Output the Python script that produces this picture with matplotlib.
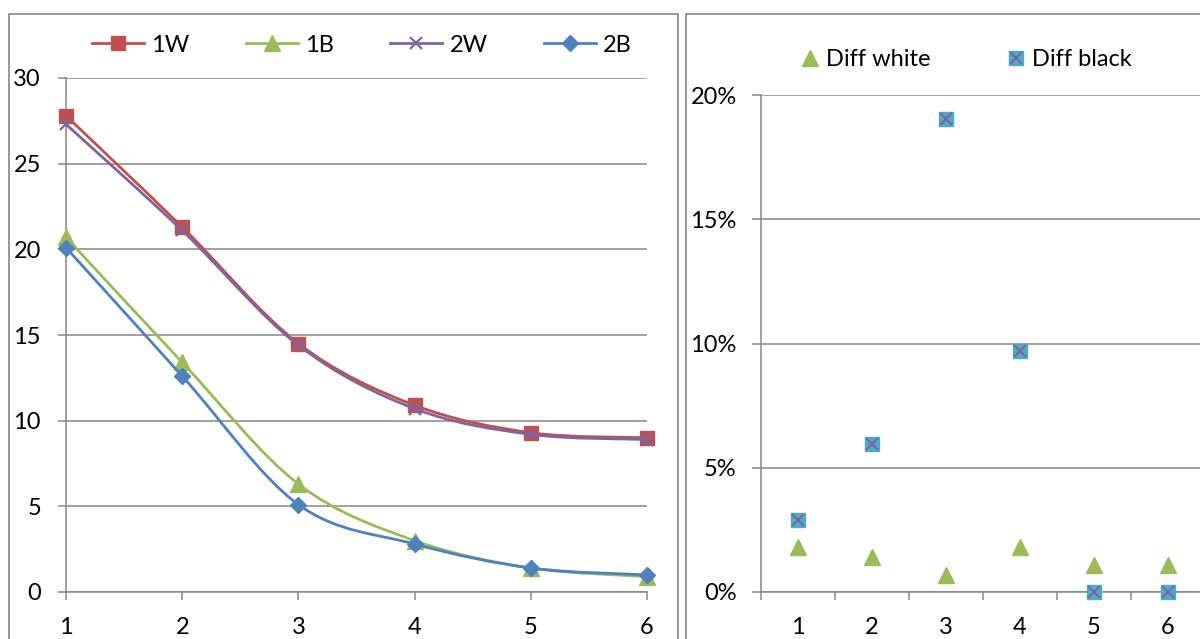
import numpy as np
import matplotlib
matplotlib.use("Agg")
import matplotlib.pyplot as plt
from matplotlib.path import Path
from matplotlib.patches import PathPatch, Rectangle
from matplotlib.lines import Line2D
from matplotlib.ticker import PercentFormatter, FixedLocator
from matplotlib.legend_handler import HandlerTuple

plt.rcParams['font.family'] = ['Lato', 'DejaVu Sans']

# Left chart: four measurement series over six steps
steps = [1, 2, 3, 4, 5, 6]
w1 = [27.8, 21.3, 14.5, 10.9, 9.3, 9.0]
b1 = [20.7, 13.4, 6.3, 3.0, 1.4, 0.9]
w2 = [27.3, 21.1, 14.4, 10.7, 9.2, 8.9]
b2 = [20.1, 12.6, 5.1, 2.8, 1.4, 1.0]
left_yticks = [0, 5, 10, 15, 20, 25, 30]

# Right chart: relative differences per category
categories = ['1', '2', '3', '4', '5', '6']
diff_white = [0.018, 0.014, 0.007, 0.018, 0.011, 0.011]
diff_black = [0.029, 0.0595, 0.1905, 0.097, 0.0, 0.0]
right_yticks = [0, 0.05, 0.10, 0.15, 0.20]

RED, GREEN, PURPLE, BLUE, CYAN = '#C0504D', '#9BBB59', '#8064A2', '#4F81BD', '#4BACC6'
GRAY = '#868686'
FS = 17

W, H = 1200, 639
fig = plt.figure(figsize=(W / 100, H / 100), dpi=100)


def fx(px):
    return px / W


def fy(py):
    return (H - py) / H


# chart frames
fig.patches.append(Rectangle((fx(9), -0.05), fx(678) - fx(9), fy(14) + 0.05,
                             transform=fig.transFigure, fill=False,
                             edgecolor=GRAY, lw=1.2))
fig.patches.append(Rectangle((fx(686), -0.05), 0.5, fy(14) + 0.05,
                             transform=fig.transFigure, fill=False,
                             edgecolor=GRAY, lw=1.2))


def smooth_path(x, y):
    pts = np.column_stack([x, y]).astype(float)
    n = len(pts)
    verts = [pts[0]]
    codes = [Path.MOVETO]
    for i in range(n - 1):
        p0 = pts[i - 1] if i > 0 else pts[i]
        p1, p2 = pts[i], pts[i + 1]
        p3 = pts[i + 2] if i + 2 < n else pts[i + 1]
        verts += [p1 + (p2 - p0) / 6, p2 - (p3 - p1) / 6, p2]
        codes += [Path.CURVE4] * 3
    return Path(verts, codes)


# ---------- left chart ----------
ax = fig.add_axes([fx(66), fy(592), fx(647) - fx(66), fy(78) - fy(592)])
ax.set_xlim(1, 6)
ax.set_ylim(0, 30)

series = [
    ('1W', w1, RED, dict(marker='s', ms=10, mec=RED, mfc=RED)),
    ('1B', b1, GREEN, dict(marker='^', ms=11, mec=GREEN, mfc=GREEN)),
    ('2W', w2, PURPLE, dict(marker='x', ms=9, mew=1.6, mec=PURPLE)),
    ('2B', b2, BLUE, dict(marker='D', ms=8.5, mec=BLUE, mfc=BLUE)),
]
handles = []
for k, (name, vals, col, mk) in enumerate(series):
    patch = PathPatch(smooth_path(steps, vals), fill=False, edgecolor=col,
                      lw=2.0, zorder=3 + 2 * k, clip_on=False)
    ax.add_patch(patch)
    ax.plot(steps, vals, ls='none', zorder=4 + 2 * k, clip_on=False, **mk)
    handles.append(Line2D([], [], color=col, lw=2.0, label=name, **mk))

for sp in ['top', 'right']:
    ax.spines[sp].set_visible(False)
for sp in ['left', 'bottom']:
    ax.spines[sp].set_color(GRAY)
    ax.spines[sp].set_linewidth(1.1)
ax.yaxis.set_major_locator(FixedLocator(left_yticks))
ax.xaxis.set_major_locator(FixedLocator(steps))
ax.grid(axis='y', color=GRAY, lw=1.1)
ax.set_axisbelow(True)
ax.tick_params(axis='both', direction='out', length=6, width=1.1, color=GRAY,
               labelsize=FS, labelcolor='black')
ax.tick_params(axis='y', pad=12)
ax.tick_params(axis='x', pad=12)

fig.legend(handles=handles, loc='center', bbox_to_anchor=(fx(362), fy(45)),
           ncol=4, frameon=False, fontsize=FS, handlelength=2.2,
           handletextpad=0.3, columnspacing=2.4)

# ---------- right chart ----------
ax2 = fig.add_axes([fx(761), fy(592), fx(1205) - fx(761), fy(95) - fy(592)])
ax2.set_xlim(0.5, 6.5)
ax2.set_ylim(0, 0.20)
pos = np.arange(1, len(categories) + 1)

ax2.plot(pos, diff_white, ls='none', marker='^', ms=11, color=GREEN,
         clip_on=False, zorder=3)
ax2.plot(pos, diff_black, ls='none', marker='s', ms=10, color=CYAN,
         mec=CYAN, clip_on=False, zorder=4)
ax2.plot(pos, diff_black, ls='none', marker='x', ms=8, mew=1.5, color=PURPLE,
         clip_on=False, zorder=5)

for sp in ['top', 'right']:
    ax2.spines[sp].set_visible(False)
for sp in ['left', 'bottom']:
    ax2.spines[sp].set_color(GRAY)
    ax2.spines[sp].set_linewidth(1.1)
ax2.yaxis.set_major_locator(FixedLocator(right_yticks))
ax2.yaxis.set_major_formatter(PercentFormatter(1.0, decimals=0))
ax2.xaxis.set_major_locator(FixedLocator(pos))
ax2.set_xticklabels(categories)
ax2.xaxis.set_minor_locator(FixedLocator(np.arange(0.5, len(categories) + 1, 1.0)))
ax2.grid(axis='y', color=GRAY, lw=1.1)
ax2.set_axisbelow(True)
ax2.tick_params(axis='y', direction='out', length=6.5, width=1.1, color=GRAY,
                labelsize=FS, pad=11)
ax2.tick_params(axis='x', which='major', length=0, labelsize=FS, pad=18)
ax2.tick_params(axis='x', which='minor', direction='out', length=6, width=1.1,
                color=GRAY)

h_white = Line2D([], [], ls='none', marker='^', ms=11, color=GREEN)
h_black = (Line2D([], [], ls='none', marker='s', ms=10, color=CYAN),
           Line2D([], [], ls='none', marker='x', ms=8, mew=1.5, color=PURPLE))
fig.legend([h_white, h_black], ['Diff white', 'Diff black'], loc='center',
           bbox_to_anchor=(fx(966), fy(60)), ncol=2, frameon=False,
           fontsize=FS, handlelength=0.8, handletextpad=0.3, columnspacing=3.2,
           handler_map={tuple: HandlerTuple(ndivide=1)})

fig.savefig('out.png', dpi=100)
